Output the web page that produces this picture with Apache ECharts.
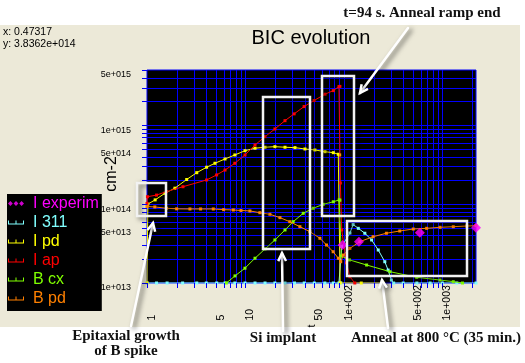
<!DOCTYPE html>
<html><head><meta charset="utf-8">
<script src="https://cdn.jsdelivr.net/npm/echarts@6/dist/echarts.min.js"></script>
<style>html,body{margin:0;padding:0;background:#fff;}#c{width:525px;height:363px;}</style>
</head><body><div id="c"></div>
<script>
// ---- data ----
const xLabelValues = [1, 5, 10, 50, 100, 500, 1000];
const xLabelTexts = ['1', '5', '10', '50', '1e+002', '5e+002', '1e+003'];
const yLabelValues = [1e13, 5e13, 1e14, 5e14, 1e15, 5e15];
const yLabelTexts = ['1e+013', '5e+013', '1e+014', '5e+014', '1e+015', '5e+015'];
const xGridValues = [2,3,4,5,6,7,8,9,10,20,30,40,50,60,70,80,90,100,200,300,400,500,600,700,800,900,1000,2000];
const yGridValues = [2e13,3e13,4e13,5e13,6e13,7e13,8e13,9e13,1e14,2e14,3e14,4e14,5e14,6e14,7e14,8e14,9e14,1e15,2e15,3e15,4e15];
const seriesNames = ['I experim', 'I 311', 'I pd', 'I ap', 'B cx', 'B pd'];

const iExperim = [[97,3.03e13],[142,3.34e13],[590,4.34e13],[2194,5.02e13]];
const i311 = [[1,1e13],[1.25,1e13],[1.6,1e13],[2.3,1e13],[3.2,1e13],[4,1e13],[5.1,1e13],[6.2,1e13],[7.8,1e13],[9.9,1e13],[12.5,1e13],[15.8,1e13],[19.9,1e13],[25.2,1e13],[31.5,1e13],[39.5,1e13],[50,1e13],[64,1e13],[78,1e13],[89,1e13],[93,1e13],[95,2.9e13],[115,4.3e13],[124,5.5e13],[140,4.93e13],[163,4.27e13],[191,3.51e13],[223,2.62e13],[260,1.86e13],[281,1.46e13],[303,1.09e13],[320,1e13],[400,1e13],[550,1e13],[750,1e13],[1000,1e13],[1400,1e13],[2194,1e13]];
const iPd = [[1,1e13],[1.02,1.0e14],[1.21,1.13e14],[1.52,1.37e14],[1.92,1.59e14],[2.53,2.05e14],[3.2,2.5e14],[4.03,2.93e14],[4.9,3.29e14],[6.2,3.73e14],[7.8,4.19e14],[9.9,4.75e14],[12.5,5.1e14],[15.8,5.25e14],[19.9,5.34e14],[25.2,5.25e14],[31.8,5.19e14],[40.2,4.99e14],[50.7,4.85e14],[64.2,4.61e14],[78,4.48e14],[87.6,4.28e14],[90.5,4.2e14],[91.5,1e13],[150,1e13],[250,1e13]];
const iAp = [[1,1.02e14],[1.01,1.24e14],[1.25,1.3e14],[1.58,1.44e14],[2.32,1.66e14],[4.03,2.02e14],[5.09,2.34e14],[6.2,2.7e14],[7.8,3.29e14],[9.9,4.19e14],[12.5,5.61e14],[15.8,7.15e14],[19.9,8.95e14],[25.2,1.14e15],[31.2,1.39e15],[39.4,1.72e15],[49.7,2.05e15],[64.3,2.47e15],[78,2.74e15],[89,3.08e15],[91,3.1e15],[92,1.85e14],[95,4.7e13],[106,1.8e13],[115,1.2e13],[129,1.0e13]];
const bCx = [[6.4,1.0e13],[7.83,1.23e13],[9.88,1.54e13],[12.5,2.06e13],[15.8,2.7e13],[19.9,3.51e13],[25.2,4.7e13],[30.5,5.98e13],[38.6,7.64e13],[48.8,8.85e13],[61.7,9.94e13],[78,1.07e14],[89.6,1.13e14],[91,1.12e14],[94,2.2e13],[114,1.96e13],[170,1.69e13],[294,1.39e13],[549,1.18e13],[945,1.09e13],[1290,1.04e13],[1600,1.0e13]];
const bPd = [[1,9.3e13],[1.2,9.2e13],[1.58,8.85e13],[2,8.7e13],[2.73,8.67e13],[3.5,8.67e13],[4.71,8.67e13],[6,8.5e13],[7.53,8.42e13],[9,8.3e13],[11.1,8.18e13],[14,7.78e13],[17.7,7.42e13],[22.4,6.73e13],[28.2,5.98e13],[35.7,5.17e13],[45.1,4.47e13],[57,3.69e13],[66.5,3.03e13],[77.7,2.49e13],[87.7,2.06e13],[92.8,1.86e13],[98.6,2.26e13],[115,2.75e13],[145,3.34e13],[198,3.86e13],[270,4.27e13],[369,4.56e13],[506,4.83e13],[692,4.93e13],[945,5.08e13],[1290,5.17e13],[1767,5.28e13],[2194,5.32e13]];

// ---- styles ----
const colors = ['#ff00ff', '#80ffff', '#ffff00', '#ff0000', '#80ff00', '#ff8000'];
const seriesData = [iExperim, i311, iPd, iAp, bCx, bPd];
const lineIcon = 'path://M0,4H16V5H0Z M0,1H1V5H0Z M7.5,1H8.5V5H7.5Z M15,1H16V5H15Z';
const dotIcon = 'path://M0,3L3,0L6,3L3,6Z M7,3L10,0L13,3L10,6Z M14,3L17,0L20,3L17,6Z';

const chart = echarts.init(document.getElementById('c'));
const blue = '#0000ff';

const series = [];
seriesNames.forEach((n, i) => {
  if (i === 0) {
    series.push({ type: 'scatter', name: n, data: seriesData[i], symbol: 'diamond', symbolSize: 10,
      itemStyle: { color: colors[i] }, clip: false, z: 6, silent: true });
  } else {
    series.push({ type: 'line', name: n, data: seriesData[i], symbol: 'rect', symbolSize: 3, showAllSymbol: true,
      lineStyle: { color: colors[i], width: 1 }, itemStyle: { color: colors[i] }, z: 3 + i * 0.1, silent: true });
  }
});

const hiddenAxis = {
  axisLine: { show: false }, axisTick: { show: false }, axisLabel: { show: false },
  splitLine: { show: false }, minorSplitLine: { show: false }, minorTick: { show: false }
};

chart.setOption({
  animation: false,
  backgroundColor: '#ECE9D8',
  grid: { left: 147, top: 70, right: 49, bottom: 80, show: true, backgroundColor: '#000', borderColor: blue, borderWidth: 1, containLabel: false, outerBoundsMode: 'none' },
  xAxis: Object.assign({ type: 'log', logBase: 10, min: 1, max: 2194 }, hiddenAxis),
  yAxis: Object.assign({ type: 'log', logBase: 10, min: 1e13, max: 5e15 }, hiddenAxis),
  legend: {
    data: seriesNames.map((n, i) => ({ name: n, icon: i === 0 ? dotIcon : lineIcon, textStyle: { color: colors[i] } })),
    orient: 'vertical', left: 7, top: 194, padding: [0, 3, 3, 1], itemGap: 0, itemWidth: 16, itemHeight: 8,
    backgroundColor: '#000', selectedMode: false,
    textStyle: { fontSize: 16, fontFamily: 'Liberation Sans, Arial, sans-serif', lineHeight: 19, padding: [0, 0, 0, 4] }
  },
  series: series
});

const px = v => chart.convertToPixel({ xAxisIndex: 0 }, v);
const py = v => chart.convertToPixel({ yAxisIndex: 0 }, v);
const x0 = px(1), x1 = px(2194), yb = py(1e13), yt = py(5e15);

function text(x, y, t, font, opt) {
  opt = opt || {};
  return { type: 'text', x: x, y: y, rotation: opt.rot || 0, z: opt.z || 50, silent: true,
    style: { text: t, font: font, fill: opt.color || '#000', align: opt.align || 'left', verticalAlign: opt.va || 'middle',
      textAlign: opt.align || 'left', textVerticalAlign: opt.va || 'middle' } };
}
const shadow = { shadowBlur: 5, shadowColor: 'rgba(0,0,0,0.6)', shadowOffsetX: 3, shadowOffsetY: 2 };
function box(a, b, c, d) {
  return { type: 'rect', z: 60, silent: true, shape: { x: a, y: b, width: c - a, height: d - b },
    style: Object.assign({ fill: null, stroke: '#f2f2f2', lineWidth: 2.5 }, shadow) };
}
function arrow(xs, ys, xt, ytt) {
  const a = Math.atan2(ytt - ys, xt - xs), L = 9, s = 0.45;
  const h1 = [xt - L * Math.cos(a - s), ytt - L * Math.sin(a - s)];
  const h2 = [xt - L * Math.cos(a + s), ytt - L * Math.sin(a + s)];
  return [
    { type: 'polyline', z: 61, silent: true, shape: { points: [[xs, ys], [xt, ytt]] },
      style: Object.assign({ stroke: '#ffffff', lineWidth: 2.5, fill: null, lineCap: 'round' }, shadow) },
    { type: 'polyline', z: 61, silent: true, shape: { points: [h1, [xt, ytt], h2] },
      style: Object.assign({ stroke: '#ffffff', lineWidth: 2.5, fill: null, lineJoin: 'miter' }, shadow) }
  ];
}

const g = [];
// white margins outside the beige panel
g.push({ type: 'rect', z: 0, silent: true, shape: { x: 0, y: 0, width: 525, height: 25 }, style: { fill: '#fff' } });
g.push({ type: 'rect', z: 0, silent: true, shape: { x: 0, y: 327, width: 525, height: 36 }, style: { fill: '#fff' } });
g.push({ type: 'rect', z: 0, silent: true, shape: { x: 520, y: 0, width: 5, height: 363 }, style: { fill: '#fff' } });

// grid lines (crisp) and ticks
xGridValues.forEach(v => {
  const x = Math.round(px(v)) + 0.5;
  g.push({ type: 'line', z: 1, silent: true, shape: { x1: x, y1: yt, x2: x, y2: yb }, style: { stroke: blue, lineWidth: 1 } });
});
yGridValues.forEach(v => {
  const y = Math.round(py(v)) + 0.5;
  g.push({ type: 'line', z: 1, silent: true, shape: { x1: x0, y1: y, x2: x1, y2: y }, style: { stroke: blue, lineWidth: 1 } });
});
xGridValues.concat([1]).forEach(v => {
  const x = Math.round(px(v)) + 0.5;
  g.push({ type: 'line', z: 5, silent: true, shape: { x1: x, y1: yb, x2: x, y2: yb + 5 }, style: { stroke: blue, lineWidth: 1 } });
});
yGridValues.concat([1e13, 5e15]).forEach(v => {
  const y = Math.round(py(v)) + 0.5;
  g.push({ type: 'line', z: 5, silent: true, shape: { x1: x0 - 5, y1: y, x2: x0, y2: y }, style: { stroke: blue, lineWidth: 1 } });
});
// tick labels
xLabelValues.forEach((v, i) => {
  g.push(text(px(v) - 0.5, yb + 37.5, xLabelTexts[i], '10.5px "Liberation Sans", Arial, sans-serif', { rot: Math.PI / 2, align: 'left', va: 'top' }));
});
yLabelValues.forEach((v, i) => {
  g.push(text(131, py(v) + 5, yLabelTexts[i], '9px "Liberation Sans", Arial, sans-serif', { align: 'right' }));
});
// axis names
g.push(text(306, 327.5, 't', '11px "Liberation Sans", Arial, sans-serif', { rot: Math.PI / 2, align: 'left', va: 'top' }));
g.push(text(112, 174, 'cm-2', '16px "Liberation Sans", Arial, sans-serif', { rot: Math.PI / 2, align: 'center' }));
// title and cursor readout
g.push(text(311, 38, 'BIC evolution', '20px "Liberation Sans", Arial, sans-serif', { align: 'center' }));
g.push(text(3, 32.5, 'x: 0.47317', '10.5px "Liberation Sans", Arial, sans-serif'));
g.push(text(3, 44.5, 'y: 3.8362e+014', '10.5px "Liberation Sans", Arial, sans-serif'));

// annotation boxes and arrows
g.push(box(137, 183, 166, 216));
g.push(box(263, 97, 310, 249));
g.push(box(322, 76, 354, 216));
g.push(box(347, 221, 467, 276));
arrow(131, 326, 153, 223).forEach(e => g.push(e));
arrow(283, 331, 282, 253).forEach(e => g.push(e));
arrow(388, 328, 382, 280).forEach(e => g.push(e));
arrow(408, 28, 360, 93).forEach(e => g.push(e));

const serif = 'bold 15px "Liberation Serif", "Times New Roman", serif';
g.push(text(422, 13, 't=94 s. Anneal ramp end', serif, { align: 'center', color: '#111', z: 70 }));
g.push(text(126, 336, 'Epitaxial growth', serif, { align: 'center', color: '#111', z: 70 }));
g.push(text(126, 351.5, 'of B spike', serif, { align: 'center', color: '#111', z: 70 }));
g.push(text(283, 338.5, 'Si implant', serif, { align: 'center', color: '#111', z: 70 }));
g.push(text(436, 338.5, 'Anneal at 800 °C (35 min.)', serif, { align: 'center', color: '#111', z: 70 }));

chart.setOption({ graphic: { elements: g } });
</script>
</body></html>
